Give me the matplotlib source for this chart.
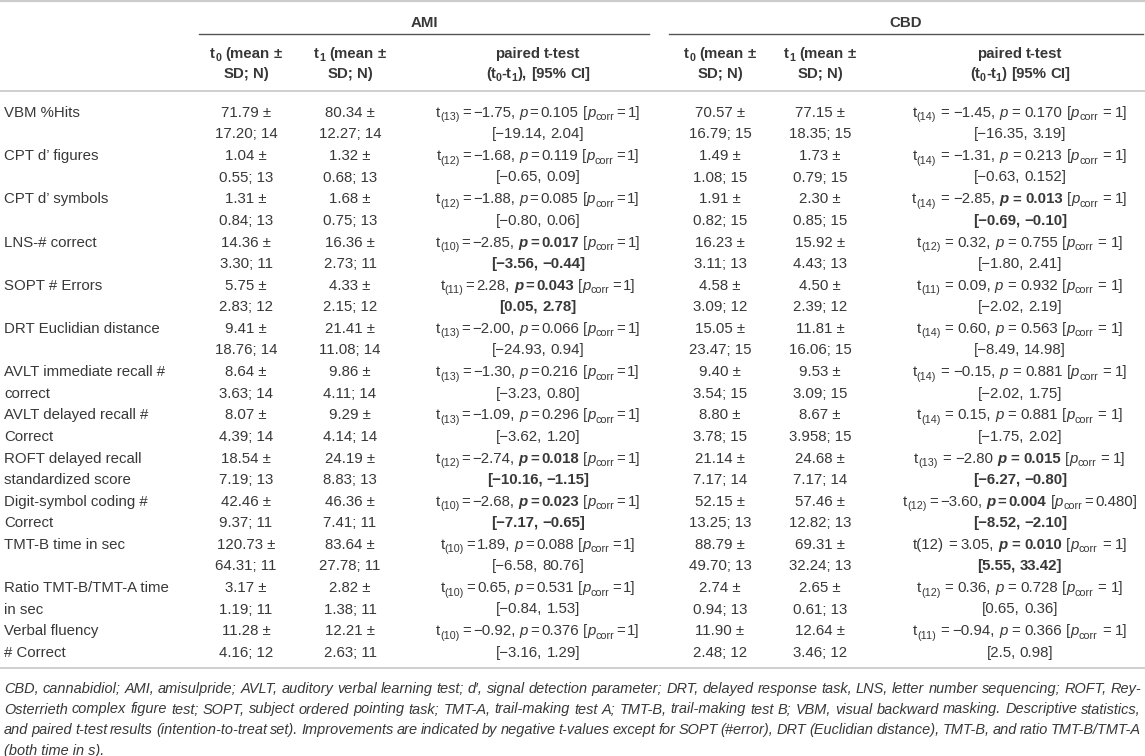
import matplotlib
matplotlib.use("Agg")
import matplotlib.pyplot as plt

plt.rcParams['font.family'] = ['Liberation Sans', 'DejaVu Sans']

# row labels (two lines per row)
labels = [("VBM %Hits", ""), ("CPT d\u2019 figures", ""), ("CPT d\u2019 symbols", ""),
          ("LNS-# correct", ""), ("SOPT # Errors", ""), ("DRT Euclidian distance", ""),
          ("AVLT immediate recall #", "correct"), ("AVLT delayed recall #", "Correct"),
          ("ROFT delayed recall", "standardized score"), ("Digit-symbol coding #", "Correct"),
          ("TMT-B time in sec", ""), ("Ratio TMT-B/TMT-A time", "in sec"),
          ("Verbal fluency", "# Correct")]

# AMI
ami_t0_mean = ["71.79", "1.04", "1.31", "14.36", "5.75", "9.41", "8.64", "8.07", "18.54", "42.46", "120.73", "3.17", "11.28"]
ami_t0_sd = ["17.20", "0.55", "0.84", "3.30", "2.83", "18.76", "3.63", "4.39", "7.19", "9.37", "64.31", "1.19", "4.16"]
ami_t0_n = [14, 13, 13, 11, 12, 14, 14, 14, 13, 11, 11, 11, 12]
ami_t1_mean = ["80.34", "1.32", "1.68", "16.36", "4.33", "21.41", "9.86", "9.29", "24.19", "46.36", "83.64", "2.82", "12.21"]
ami_t1_sd = ["12.27", "0.68", "0.75", "2.73", "2.15", "11.08", "4.11", "4.14", "8.83", "7.41", "27.78", "1.38", "2.63"]
ami_t1_n = [14, 13, 13, 11, 12, 14, 14, 14, 13, 11, 11, 11, 11]
ami_df = [13, 12, 12, 10, 11, 13, 13, 13, 12, 10, 10, 10, 10]
ami_t = ["−1.75", "−1.68", "−1.88", "−2.85", "2.28", "−2.00", "−1.30", "−1.09", "−2.74", "−2.68", "1.89", "0.65", "−0.92"]
ami_p = ["0.105", "0.119", "0.085", "0.017", "0.043", "0.066", "0.216", "0.296", "0.018", "0.023", "0.088", "0.531", "0.376"]
ami_pcorr = ["1"] * 13
ami_ci = [("−19.14", "2.04"), ("−0.65", "0.09"), ("−0.80", "0.06"), ("−3.56", "−0.44"),
          ("0.05", "2.78"), ("−24.93", "0.94"), ("−3.23", "0.80"), ("−3.62", "1.20"),
          ("−10.16", "−1.15"), ("−7.17", "−0.65"), ("−6.58", "80.76"), ("−0.84", "1.53"),
          ("−3.16", "1.29")]

# CBD
cbd_t0_mean = ["70.57", "1.49", "1.91", "16.23", "4.58", "15.05", "9.40", "8.80", "21.14", "52.15", "88.79", "2.74", "11.90"]
cbd_t0_sd = ["16.79", "1.08", "0.82", "3.11", "3.09", "23.47", "3.54", "3.78", "7.17", "13.25", "49.70", "0.94", "2.48"]
cbd_t0_n = [15, 15, 15, 13, 12, 15, 15, 15, 14, 13, 13, 13, 12]
cbd_t1_mean = ["77.15", "1.73", "2.30", "15.92", "4.50", "11.81", "9.53", "8.67", "24.68", "57.46", "69.31", "2.65", "12.64"]
cbd_t1_sd = ["18.35", "0.79", "0.85", "4.43", "2.39", "16.06", "3.09", "3.958", "7.17", "12.82", "32.24", "0.61", "3.46"]
cbd_t1_n = [15, 15, 15, 13, 12, 15, 15, 15, 14, 13, 13, 13, 12]
cbd_df = [14, 14, 14, 12, 11, 14, 14, 14, 13, 12, 12, 12, 11]
cbd_t = ["−1.45", "−1.31", "−2.85", "0.32", "0.09", "0.60", "−0.15", "0.15", "−2.80", "−3.60", "3.05", "0.36", "−0.94"]
cbd_p = ["0.170", "0.213", "0.013", "0.755", "0.932", "0.563", "0.881", "0.881", "0.015", "0.004", "0.010", "0.728", "0.366"]
cbd_pcorr = ["1", "1", "1", "1", "1", "1", "1", "1", "1", "0.480", "1", "1", "1"]
cbd_ci = [("−16.35", "3.19"), ("−0.63", "0.152"), ("−0.69", "−0.10"), ("−1.80", "2.41"),
          ("−2.02", "2.19"), ("−8.49", "14.98"), ("−2.02", "1.75"), ("−1.75", "2.02"),
          ("−6.27", "−0.80"), ("−8.52", "−2.10"), ("5.55", "33.42"), ("0.65", "0.36"),
          ("2.5", "0.98")]

footnote = [
    "CBD, cannabidiol; AMI, amisulpride; AVLT, auditory verbal learning test; d\u2032, signal detection parameter; DRT, delayed response task, LNS, letter number sequencing; ROFT, Rey-",
    "Osterrieth complex figure test; SOPT, subject ordered pointing task; TMT-A, trail-making test A; TMT-B, trail-making test B; VBM, visual backward masking. Descriptive statistics,",
    "and paired t-test results (intention-to-treat set). Improvements are indicated by negative t-values except for SOPT (#error), DRT (Euclidian distance), TMT-B, and ratio TMT-B/TMT-A",
    "(both time in s).",
]

W, H = 1145, 756
fig = plt.figure(figsize=(W / 100, H / 100), dpi=100)
ax = fig.add_axes([0, 0, 1, 1])
ax.set_xlim(0, W)
ax.set_ylim(H, 0)
ax.axis('off')
renderer = fig.canvas.get_renderer()

FS = 10.8
FPX = FS * 100 / 72
TXT = '#383838'
rule = '#cccccc'

STY = {
    'r': dict(fontsize=FS),
    'b': dict(fontsize=FS, fontweight='bold'),
    'i': dict(fontsize=FS, style='italic'),
    'bi': dict(fontsize=FS, fontweight='bold', style='italic'),
    's': dict(fontsize=FS * 0.72),
    'bs': dict(fontsize=FS * 0.72, fontweight='bold'),
    'fn': dict(fontsize=10.0, style='italic'),
}
SHIFT = {'s': 0.22 * FPX, 'bs': 0.22 * FPX}

_cache = {}


def _raw(s, key):
    t = ax.text(0, 0, s, **STY[key])
    w = t.get_window_extent(renderer).width
    t.remove()
    return w


def width(s, key):
    if (s, key) not in _cache:
        _cache[(s, key)] = _raw("n" + s + "n", key) - _raw("nn", key)
    return _cache[(s, key)]


def seg_w(s, key):
    if s == '~':
        return width(' ', key) * 0.55
    return width(s, key)


def rich(x, y, segs, ha='center', color=TXT):
    total = sum(seg_w(s, k) for s, k in segs)
    cx = x - total / 2 if ha == 'center' else x
    for s, k in segs:
        if s not in (' ', '~'):
            ax.text(cx, y + SHIFT.get(k, 0), s, ha='left', va='baseline',
                    color=color, **STY[k])
        cx += seg_w(s, k)


def ttest_segs(df, t, p, pc, sig, sp, comma=True, plain_df=False):
    if plain_df:
        segs = [(f"t({df})", 'r')]
    else:
        segs = [("t", 'r'), (f"({df})", 's')]
    segs += [(sp, 'r'), ("=", 'r'), (sp, 'r'), (t + ("," if comma else ""), 'r'), (' ', 'r')]
    if sig:
        segs += [("p", 'bi'), (sp, 'b'), ("=", 'b'), (sp, 'b'), (p, 'b')]
    else:
        segs += [("p", 'i'), (sp, 'r'), ("=", 'r'), (sp, 'r'), (p, 'r')]
    segs += [(' ', 'r'), ("[", 'r'), ("p", 'i'), ("corr", 's'), (sp, 'r'), ("=", 'r'),
             (sp, 'r'), (pc + "]", 'r')]
    return segs


def ci_segs(lo, hi, sig):
    k = 'b' if sig else 'r'
    return [(f"[{lo},", k), (' ', k), (f"{hi}]", k)]


col_x = [4, 246, 350, 538, 720, 820, 1020]

# rules
ax.plot([0, W], [1, 1], color=rule, lw=1.6)
ax.plot([0, W], [91, 91], color=rule, lw=1.3)
ax.plot([0, W], [668, 668], color=rule, lw=1.3)
ax.plot([199, 649], [34, 34], color='#555555', lw=1.0)
ax.plot([669, 1143], [34, 34], color='#555555', lw=1.0)

# group headers
BO = 5  # baseline offset from line centre
rich(424, 22 + BO, [("AMI", 'b')])
rich(906, 22 + BO, [("CBD", 'b')])

t0h = [("t", 'b'), ("0", 'bs'), (' ', 'b'), ("(mean", 'b'), (' ', 'b'), ("±", 'b')]
t1h = [("t", 'b'), ("1", 'bs'), (' ', 'b'), ("(mean", 'b'), (' ', 'b'), ("±", 'b')]
sdn = [("SD;", 'b'), (' ', 'b'), ("N)", 'b')]
ptt = [("paired", 'b'), (' ', 'b'), ("t-test", 'b')]
dif = [("(t", 'b'), ("0", 'bs'), ("-t", 'b'), ("1", 'bs')]
ami_d = dif + [("),", 'b'), (' ', 'b'), ("[95%", 'b'), (' ', 'b'), ("CI]", 'b')]
cbd_d = dif + [(")", 'b'), (' ', 'b'), ("[95%", 'b'), (' ', 'b'), ("CI]", 'b')]
heads = [(col_x[1], t0h, sdn), (col_x[2], t1h, sdn), (col_x[3], ptt, ami_d),
         (col_x[4], t0h, sdn), (col_x[5], t1h, sdn), (col_x[6], ptt, cbd_d)]
for x, a, b in heads:
    rich(x, 53 + BO, a)
    rich(x, 73 + BO, b)

y0, pitch, gap = 112, 43.2, 21.3
for i in range(len(labels)):
    y1 = y0 + i * pitch + BO
    y2 = y1 + gap
    kw = dict(va='baseline', fontsize=FS, color=TXT)
    ax.text(col_x[0], y1, labels[i][0], ha='left', **kw)
    ax.text(col_x[0], y2, labels[i][1], ha='left', **kw)

    cells = [(col_x[1], ami_t0_mean[i], ami_t0_sd[i], ami_t0_n[i]),
             (col_x[2], ami_t1_mean[i], ami_t1_sd[i], ami_t1_n[i]),
             (col_x[4], cbd_t0_mean[i], cbd_t0_sd[i], cbd_t0_n[i]),
             (col_x[5], cbd_t1_mean[i], cbd_t1_sd[i], cbd_t1_n[i])]
    for x, m, s, n in cells:
        ax.text(x, y1, f"{m} ±", ha='center', **kw)
        ax.text(x, y2, f"{s}; {n}", ha='center', **kw)

    sig = float(ami_p[i]) < 0.05
    rich(col_x[3], y1, ttest_segs(ami_df[i], ami_t[i], ami_p[i], ami_pcorr[i], sig, '~'))
    rich(col_x[3], y2, ci_segs(*ami_ci[i], sig))

    sig = float(cbd_p[i]) < 0.05
    sp = '~' if cbd_pcorr[i] != "1" else ' '
    rich(col_x[6], y1, ttest_segs(cbd_df[i], cbd_t[i], cbd_p[i], cbd_pcorr[i], sig, sp,
                                  comma=(i != 8), plain_df=(i == 10)))
    rich(col_x[6], y2, ci_segs(*cbd_ci[i], sig))

# footnote: size so that the first line fills the width, then justify
left, right = 4, 1141
nat = _raw(footnote[0], 'fn')
STY['fn'] = dict(fontsize=10.0 * (right - left) / nat, style='italic')
for k, line in enumerate(footnote):
    y = 688 + k * 20.5 + BO
    words = line.split(' ')
    if k < len(footnote) - 1:
        ws = [width(w, 'fn') for w in words]
        g = (right - left - sum(ws)) / (len(words) - 1)
        cx = left
        for w, wd in zip(words, ws):
            ax.text(cx, y, w, ha='left', va='baseline', color=TXT, **STY['fn'])
            cx += wd + g
    else:
        ax.text(left, y, line, ha='left', va='baseline', color=TXT, **STY['fn'])

fig.savefig("out.png", dpi=100)
